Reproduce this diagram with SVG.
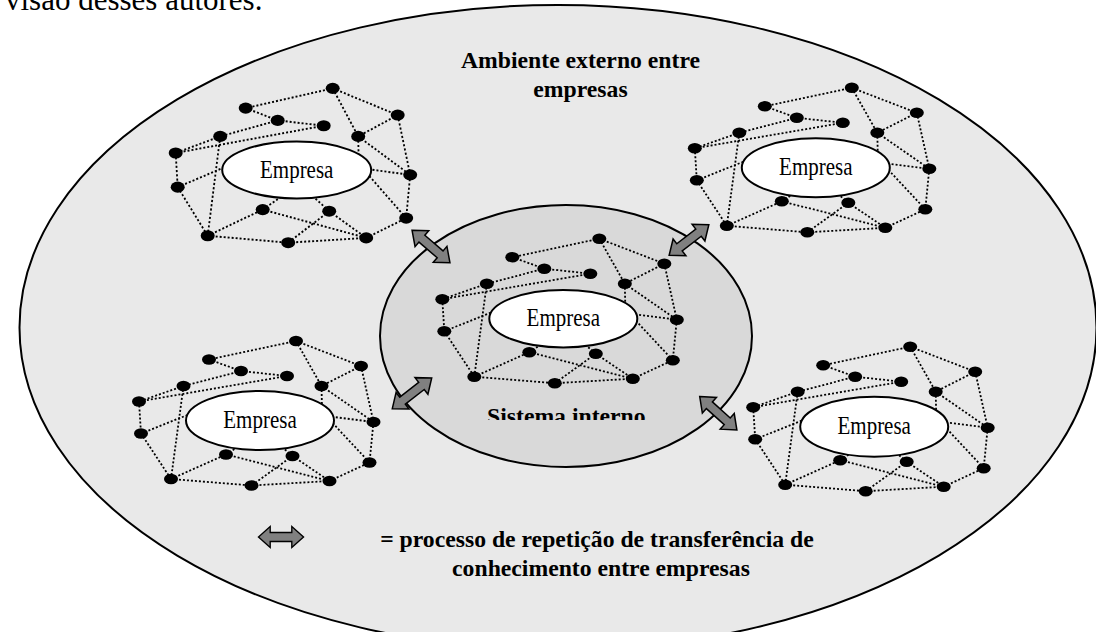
<svg xmlns="http://www.w3.org/2000/svg" xmlns:xlink="http://www.w3.org/1999/xlink" width="1096" height="632" viewBox="0 0 1096 632">
<style>
.net line{stroke:#000;stroke-width:1.8;stroke-dasharray:2 2;fill:none}
.dot{fill:#000}
.emp{fill:#fff;stroke:#000;stroke-width:2}
.empt{font-family:"Liberation Serif","Times New Roman",serif;font-size:21px;text-anchor:middle;fill:#000}
.bold{font-family:"Liberation Serif","Times New Roman",serif;font-size:23.7px;font-weight:bold;text-anchor:middle;fill:#000}
.arrow{fill:#808080;stroke:#000;stroke-width:1.5;stroke-linejoin:miter}
</style>
<defs>
<clipPath id="sysclip"><rect x="0" y="0" width="1096" height="420"/></clipPath>
<path id="darrow" class="arrow" d="M-25,0 L-12,-10.5 L-12,-4.5 L12,-4.5 L12,-10.5 L25,0 L12,10.5 L12,4.5 L-12,4.5 L-12,10.5 Z"/>
<g id="net" class="net">
<line x1="36" y1="-80" x2="-51" y2="-61.5"/>
<line x1="36" y1="-80" x2="101" y2="-55"/>
<line x1="36" y1="-80" x2="61.5" y2="-35"/>
<line x1="-51" y1="-61.5" x2="-19" y2="-50"/>
<line x1="-19" y1="-50" x2="27" y2="-45"/>
<line x1="-19" y1="-50" x2="-76.5" y2="-35"/>
<line x1="-76.5" y1="-35" x2="-121" y2="-19.5"/>
<line x1="-121" y1="-19.5" x2="27" y2="-45"/>
<line x1="101" y1="-55" x2="61.5" y2="-35"/>
<line x1="101" y1="-55" x2="113.5" y2="1"/>
<line x1="61.5" y1="-35" x2="113.5" y2="1"/>
<line x1="61.5" y1="-35" x2="62" y2="-12"/>
<line x1="113.5" y1="1" x2="66" y2="-5"/>
<line x1="109.5" y1="41.5" x2="66" y2="-5"/>
<line x1="113.5" y1="1" x2="109.5" y2="41.5"/>
<line x1="-121" y1="-19.5" x2="-119" y2="12.5"/>
<line x1="-119" y1="12.5" x2="-60" y2="-11"/>
<line x1="-76.5" y1="-35" x2="-89" y2="58"/>
<line x1="-119" y1="12.5" x2="-89" y2="58"/>
<line x1="-89" y1="58" x2="-34" y2="33.5"/>
<line x1="-89" y1="58" x2="-8.5" y2="64.5"/>
<line x1="-34" y1="33.5" x2="-10" y2="18"/>
<line x1="-34" y1="33.5" x2="69.5" y2="60"/>
<line x1="32.5" y1="35" x2="15" y2="20"/>
<line x1="32.5" y1="35" x2="69.5" y2="60"/>
<line x1="32.5" y1="35" x2="-8.5" y2="64.5"/>
<line x1="-8.5" y1="64.5" x2="69.5" y2="60"/>
<line x1="69.5" y1="60" x2="109.5" y2="41.5"/>
<ellipse class="dot" cx="36" cy="-80" rx="7" ry="5.2"/>
<ellipse class="dot" cx="-51" cy="-61.5" rx="7" ry="5.2"/>
<ellipse class="dot" cx="-19" cy="-50" rx="7" ry="5.2"/>
<ellipse class="dot" cx="27" cy="-45" rx="7" ry="5.2"/>
<ellipse class="dot" cx="101" cy="-55" rx="7" ry="5.2"/>
<ellipse class="dot" cx="61.5" cy="-35" rx="7" ry="5.2"/>
<ellipse class="dot" cx="-76.5" cy="-35" rx="7" ry="5.2"/>
<ellipse class="dot" cx="-121" cy="-19.5" rx="7" ry="5.2"/>
<ellipse class="dot" cx="-119" cy="12.5" rx="7" ry="5.2"/>
<ellipse class="dot" cx="113.5" cy="1" rx="7" ry="5.2"/>
<ellipse class="dot" cx="-34" cy="33.5" rx="7" ry="5.2"/>
<ellipse class="dot" cx="32.5" cy="35" rx="7" ry="5.2"/>
<ellipse class="dot" cx="109.5" cy="41.5" rx="7" ry="5.2"/>
<ellipse class="dot" cx="-89" cy="58" rx="7" ry="5.2"/>
<ellipse class="dot" cx="-8.5" cy="64.5" rx="7" ry="5.2"/>
<ellipse class="dot" cx="69.5" cy="60" rx="7" ry="5.2"/>
</g>
</defs>
<rect width="1096" height="632" fill="#fff"/>
<text x="5" y="9.5" font-family="Liberation Serif, Times New Roman, serif" font-size="31" fill="#000">visão desses autores.</text>
<g id="ambiente">
<ellipse cx="558" cy="327.5" rx="538.5" ry="322.5" fill="#e9e9e9" stroke="#000" stroke-width="2"/>
<text class="bold" x="580.5" y="68">Ambiente externo entre</text>
<text class="bold" x="580.5" y="96.7">empresas</text>
</g>
<g id="sistema-interno">
<ellipse cx="566" cy="336" rx="186" ry="131" fill="#d9d9d9" stroke="#000" stroke-width="2"/>
<text class="bold" x="566.3" y="424" clip-path="url(#sysclip)">Sistema interno</text>
</g>
<g id="empresa-tl">
<use xlink:href="#net" transform="translate(296.7,173.8) scale(1,1.068)"/>
<ellipse class="emp" cx="296.7" cy="170" rx="74.5" ry="28.5"/>
<text class="empt" transform="translate(296.7,177.5) scale(1,1.15)">Empresa</text>
</g>
<g id="empresa-tr">
<use xlink:href="#net" transform="translate(815.8,167.8)"/>
<ellipse class="emp" cx="815.8" cy="167.8" rx="74" ry="29.5"/>
<text class="empt" transform="translate(815.8,175.3) scale(1,1.15)">Empresa</text>
</g>
<g id="empresa-centro">
<use xlink:href="#net" transform="translate(563.3,318.7)"/>
<ellipse class="emp" cx="563.3" cy="318.7" rx="74" ry="28.7"/>
<text class="empt" transform="translate(563.3,326.2) scale(1,1.15)">Empresa</text>
</g>
<g id="empresa-bl">
<use xlink:href="#net" transform="translate(260,421)"/>
<ellipse class="emp" cx="260" cy="420.5" rx="74" ry="29.5"/>
<text class="empt" transform="translate(260,428) scale(1,1.15)">Empresa</text>
</g>
<g id="empresa-br">
<use xlink:href="#net" transform="translate(874.2,426.7)"/>
<ellipse class="emp" cx="874.2" cy="426.7" rx="74" ry="30"/>
<text class="empt" transform="translate(874.2,434.2) scale(1,1.15)">Empresa</text>
</g>
<g id="connectors">
<use xlink:href="#darrow" transform="translate(431,246.5) rotate(40.7)"/>
<use xlink:href="#darrow" transform="translate(689,240) rotate(-37.5)"/>
<use xlink:href="#darrow" transform="translate(412,393.3) rotate(-38)"/>
<use xlink:href="#darrow" transform="translate(718.3,413.3) rotate(42)"/>
</g>
<g id="legenda">
<use xlink:href="#darrow" transform="translate(281,537) scale(0.9,1)"/>
<text class="bold" x="597" y="547">= processo de repetição de transferência de</text>
<text class="bold" x="601" y="576">conhecimento entre empresas</text>
</g>
</svg>
